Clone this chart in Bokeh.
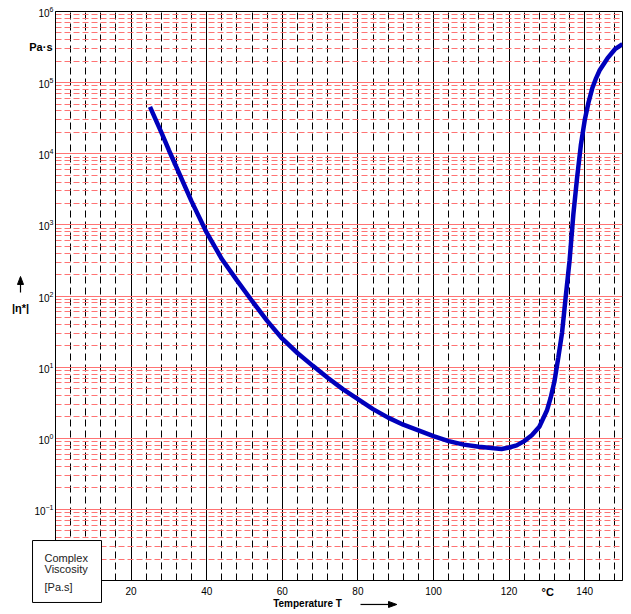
from bokeh.plotting import figure
from bokeh.models import FixedTicker, LogTickFormatter
from bokeh.core.properties import value
from bokeh.embed import file_html
from bokeh.resources import INLINE

# Complex viscosity |eta*| (Pa.s) vs temperature (deg C)
temperature = [25, 28, 30, 32, 36, 40, 44, 48, 52, 56, 60, 64, 68, 72, 76, 80,
               84, 88, 92, 96, 100, 104, 108, 112, 116, 118, 120, 122, 124, 126,
               128, 130, 131, 132, 133, 134, 135, 136, 137, 138, 139, 140, 141,
               142, 143, 144, 146, 148, 150]
viscosity = [45700, 20000, 11200, 6460, 2140, 776, 331, 166, 85.1, 44.7, 25.1,
             15.8, 10.5, 7.08, 4.90, 3.55, 2.57, 1.95, 1.55, 1.29, 1.07, 0.912,
             0.813, 0.759, 0.724, 0.708, 0.741, 0.794, 0.912, 1.10, 1.45, 2.45,
             3.72, 6.31, 13.5, 30.2, 100, 316, 1410, 4680, 13500, 29500, 52500,
             83200, 115000, 151000, 219000, 295000, 347000]

x_major_ticks = [20, 40, 60, 80, 100, 120, 140]
x_minor_ticks = [v for v in range(4, 150, 4) if v % 20 != 0]
y_exponents = [-1, 0, 1, 2, 3, 4, 5, 6]
grid_decades = [-2, -1, 0, 1, 2, 3, 4, 5, 6]
legend_lines = ["Complex", "Viscosity", "[Pa.s]"]

FONT = "Liberation Sans"

p = figure(width=631, height=614, x_range=(0, 150), y_range=(0.01, 1e6),
           y_axis_type="log", output_backend="svg", toolbar_location=None,
           min_border_left=55, min_border_right=9, min_border_top=11,
           min_border_bottom=34)
p.background_fill_color = "white"
p.border_fill_color = "white"
p.outline_line_color = "black"
p.outline_line_width = 1

# axes
p.xaxis.ticker = FixedTicker(ticks=x_major_ticks)
p.yaxis.ticker = FixedTicker(ticks=[10.0 ** e for e in y_exponents])
p.yaxis.formatter = LogTickFormatter(min_exponent=0)
for ax in (p.xaxis, p.yaxis):
    ax.major_tick_out = 0
    ax.major_tick_in = 0
    ax.minor_tick_out = 0
    ax.minor_tick_in = 0
    ax.axis_line_color = "black"
    ax.major_label_text_font = FONT
    ax.major_label_text_font_size = "10px"
    ax.major_label_text_color = "black"
p.xaxis.major_label_standoff = 6
p.yaxis.major_label_standoff = 2

# grids
p.xgrid.ticker = FixedTicker(ticks=x_major_ticks, minor_ticks=x_minor_ticks)
p.xgrid.grid_line_color = "black"
p.xgrid.grid_line_width = 1
p.xgrid.grid_line_alpha = 1
p.xgrid.minor_grid_line_color = "black"
p.xgrid.minor_grid_line_dash = "7 4"
p.xgrid.minor_grid_line_width = 1

y_minor = [m * 10.0 ** e for e in grid_decades[:-1] for m in range(2, 10)]
p.ygrid.ticker = FixedTicker(ticks=[10.0 ** e for e in grid_decades], minor_ticks=y_minor)
p.ygrid.grid_line_color = "#ff7373"
p.ygrid.grid_line_width = 1
p.ygrid.grid_line_alpha = 1
p.ygrid.minor_grid_line_color = "#ff7373"
p.ygrid.minor_grid_line_dash = "6 3"
p.ygrid.minor_grid_line_width = 1

# the curve
p.line(temperature, viscosity, line_color="#0000bb", line_width=4.5)

# ---- decorations drawn at overlay level (they may lie outside the frame) ----
def txt(x, y, s, size="11px", style="bold", align="center", color="black"):
    p.text(x=[x], y=[y], text=[s], text_font=value(FONT), text_font_size=size,
           text_font_style=style, text_align=align, text_baseline="middle",
           text_color=color, level="overlay")

# unit labels and axis names
txt(-0.79, 10 ** 5.494, "Pa\u00b7s", align="right")
txt(130.2, 10 ** -2.155, "\u00b0C")
txt(-9.26, 10 ** 1.838, "|\u03b7*|")
txt(66.67, 10 ** -2.323, "Temperature T", size="10px")

# arrow next to |eta*| (pointing up)
p.segment(x0=[-9.26], y0=[10 ** 2.049], x1=[-9.26], y1=[10 ** 2.165],
          line_color="black", line_width=1.2, level="overlay")
p.patch(x=[-9.26 - 0.8, -9.26 + 0.8, -9.26], y=[10 ** 2.162, 10 ** 2.162, 10 ** 2.274],
        fill_color="black", line_color="black", line_width=1, level="overlay")

# arrow next to Temperature T (pointing right)
p.segment(x0=[80.69], y0=[10 ** -2.337], x1=[88.3], y1=[10 ** -2.337],
          line_color="black", line_width=1.2, level="overlay")
p.patch(x=[88.1, 88.1, 90.3], y=[10 ** -2.295, 10 ** -2.379, 10 ** -2.337],
        fill_color="black", line_color="black", line_width=1, level="overlay")

# the boxed caption at the bottom-left corner
p.quad(left=[-6.08], right=[12.17], bottom=[10 ** -2.309], top=[10 ** -1.438],
       fill_color="white", line_color="black", line_width=1, level="overlay")
p.text(x=[-2.91] * 3, y=[10 ** -1.677, 10 ** -1.845, 10 ** -2.098], text=legend_lines,
       text_font=value(FONT), text_font_size="11px", text_align="left",
       text_baseline="middle", text_color="#222222", level="overlay")

open("out.html", "w").write(file_html(p, INLINE))
